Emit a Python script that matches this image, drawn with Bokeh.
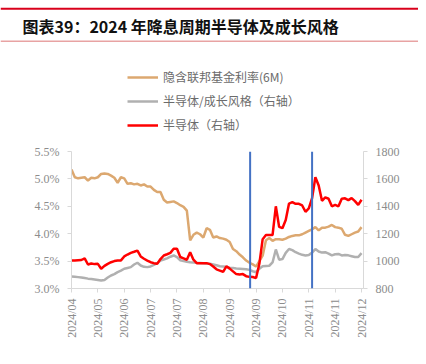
import math
from bokeh.plotting import figure
from bokeh.layouts import column
from bokeh.models import (Range1d, LinearAxis, Legend, LegendItem, Span, Label,
                          FixedTicker, PrintfTickFormatter, ColumnDataSource)
from bokeh.embed import file_html
from bokeh.resources import INLINE

title_text = "图表39：2024 年降息周期半导体及成长风格"
series_names = ["隐含联邦基金利率(6M)", "半导体/成长风格（右轴）", "半导体（右轴）"]

tick_idx = [0, 8, 16, 24, 32, 40, 48, 56, 64, 72, 80, 88]
tick_labels = ["2024/04", "2024/05", "2024/06", "2024/07", "2024/07", "2024/08",
               "2024/09", "2024/09", "2024/10", "2024/11", "2024/11", "2024/12"]

fed_rate_6m = [5.17, 5.03, 5.01, 5.02, 5.03, 4.97, 5.02, 5.01, 5.03, 5.09,
               5.10, 5.09, 5.06, 5.02, 4.93, 5.03, 5.01, 4.91, 4.92, 4.90,
               4.91, 4.88, 4.90, 4.86, 4.86, 4.80, 4.76, 4.76, 4.62, 4.57,
               4.58, 4.59, 4.56, 4.52, 4.49, 4.42, 3.88, 3.98, 4.02, 3.99,
               3.93, 4.10, 4.07, 3.93, 3.95, 3.92, 3.91, 3.89, 3.85, 3.72,
               3.68, 3.62, 3.57, 3.51, 3.47, 3.44, 3.40, 3.50, 3.60, 3.88,
               3.92, 3.87, 3.90, 3.90, 3.89, 3.91, 3.94, 3.96, 3.97, 3.97,
               3.99, 4.02, 4.05, 4.08, 4.12, 4.06, 4.11, 4.11, 4.13, 4.16,
               4.12, 4.11, 4.09, 3.98, 3.96, 3.99, 4.02, 4.04, 4.12]

semi_growth = [888, 886, 883, 880, 876, 872, 870, 866, 862, 858,
               862, 880, 895, 905, 919, 930, 944, 950, 956, 975,
               988, 968, 958, 956, 961, 972, 985, 1004, 1012, 1020,
               1032, 1041, 1029, 1006, 1000, 996, 992, 990, 988, 987,
               985, 982, 980, 975, 970, 962, 960, 958, 952, 950,
               946, 944, 942, 940, 936, 926, 919, 945, 962, 965,
               966, 990, 1085, 1010, 1015, 1060, 1088, 1080, 1065, 1055,
               1046, 1041, 1045, 1062, 1088, 1070, 1062, 1065, 1055, 1042,
               1050, 1052, 1041, 1045, 1042, 1036, 1030, 1030, 1058]

semi = [1004, 1004, 1006, 1008, 1020, 975, 982, 978, 980, 944,
        965, 980, 992, 1000, 1004, 1005, 1034, 1048, 1060, 1068,
        1077, 1034, 1017, 1004, 992, 985, 980, 1015, 1041, 1050,
        1060, 1090, 1090, 1030, 1020, 1010, 1065, 1010, 985, 985,
        985, 985, 978, 960, 940, 931, 922, 962, 945, 925,
        905, 902, 905, 890, 885, 884, 876, 980, 1160, 1190,
        1190, 1190, 1400, 1250, 1240, 1300, 1420, 1430, 1418, 1418,
        1406, 1360, 1385, 1460, 1612, 1552, 1440, 1465, 1455, 1400,
        1410, 1400, 1455, 1458, 1445, 1460, 1438, 1410, 1448]

rate_cut_idx = [54.2, 73.0]

COL_FED, COL_SG, COL_SEMI = "#DCA870", "#B0B0B0", "#FF0000"

x = list(range(len(fed_rate_6m)))
src = ColumnDataSource(dict(x=x, fed=fed_rate_6m, sg=semi_growth, semi=semi))


def bare(fig):
    fig.outline_line_color = None
    fig.xgrid.visible = False
    fig.ygrid.visible = False
    fig.frame_align = False
    return fig


# ---------------- header: rules, title, legend ----------------
HEAD_H = 143
head = bare(figure(width=418, height=HEAD_H, output_backend="svg", toolbar_location=None,
                   x_range=Range1d(0, 418), y_range=Range1d(HEAD_H, 0),
                   x_axis_location=None, y_axis_location=None,
                   min_border_left=0, min_border_right=0, min_border_top=0,
                   min_border_bottom=0))
head.add_layout(Span(location=8.3, dimension="width", line_color="#D9001B", line_width=2))
head.add_layout(Span(location=40.8, dimension="width", line_color="#E8A3A3", line_width=1.5))
head.add_layout(Label(x=22, y=25, text=title_text, text_font="Noto Sans CJK SC",
                      text_font_style="bold", text_font_size="16px",
                      text_color="#111111", text_baseline="middle"))
# legend swatches: the same series, in a range that keeps them out of this strip
head.extra_y_ranges = {"hide": Range1d(10000, 20000)}
h_fed = head.line("x", "fed", source=src, y_range_name="hide", line_color=COL_FED, line_width=2.5)
h_sg = head.line("x", "sg", source=src, y_range_name="hide", line_color=COL_SG, line_width=2.5)
h_semi = head.line("x", "semi", source=src, y_range_name="hide", line_color=COL_SEMI, line_width=2.5)
legend = Legend(items=[LegendItem(label=series_names[0], renderers=[h_fed]),
                       LegendItem(label=series_names[1], renderers=[h_sg]),
                       LegendItem(label=series_names[2], renderers=[h_semi])],
                location=(127, 10), orientation="vertical",
                glyph_width=31, glyph_height=16, label_height=16, spacing=7,
                label_standoff=5, padding=0, margin=0,
                border_line_color=None, background_fill_alpha=0,
                label_text_font="Noto Sans CJK SC", label_text_font_size="12px",
                label_text_color="#6B6B6B")
head.add_layout(legend, "center")

# ---------------- main chart ----------------
MAIN_H = 358 - HEAD_H
p = bare(figure(width=426, height=MAIN_H, output_backend="svg", toolbar_location=None,
                x_range=Range1d(0, 88.6), y_range=Range1d(3.0, 5.5),
                min_border_left=71, min_border_right=63, min_border_top=151 - HEAD_H,
                min_border_bottom=358 - 288))
p.extra_y_ranges = {"r": Range1d(800, 1800)}

axis_col = "#D9D9D9"
lab_col = "#8C8C8C"
tick_font = "Liberation Serif"

xa = p.xaxis[0]
xa.ticker = FixedTicker(ticks=tick_idx)
xa.major_label_overrides = {i: l for i, l in zip(tick_idx, tick_labels)}
xa.major_label_orientation = math.pi / 2
xa.minor_tick_line_color = None

ya = p.yaxis[0]
ya.ticker = FixedTicker(ticks=[3.0, 3.5, 4.0, 4.5, 5.0, 5.5])
ya.formatter = PrintfTickFormatter(format="%.1f%%")
ya.minor_tick_line_color = None

ra = LinearAxis(y_range_name="r", ticker=FixedTicker(ticks=[800, 1000, 1200, 1400, 1600, 1800]))
ra.minor_tick_line_color = None
p.add_layout(ra, "right")

for ax in (xa, ya, ra):
    ax.axis_line_color = axis_col
    ax.major_tick_line_color = axis_col
    ax.major_tick_in = 0
    ax.major_tick_out = 4
    ax.major_label_text_font = tick_font
    ax.major_label_text_font_size = "12px"
    ax.major_label_text_color = lab_col
    ax.major_label_standoff = 8
xa.major_label_standoff = 6

p.line("x", "fed", source=src, line_color=COL_FED, line_width=2.5)
p.line("x", "sg", source=src, y_range_name="r", line_color=COL_SG, line_width=2.5)
p.line("x", "semi", source=src, y_range_name="r", line_color=COL_SEMI, line_width=2.5)

for ci in rate_cut_idx:
    p.add_layout(Span(location=ci, dimension="height", line_color="#4472C4", line_width=2))

# ---------------- footer rule ----------------
FOOT_H = 6
foot = bare(figure(width=418, height=FOOT_H, output_backend="svg", toolbar_location=None,
                   x_range=Range1d(0, 418), y_range=Range1d(FOOT_H, 0),
                   x_axis_location=None, y_axis_location=None,
                   min_border_left=0, min_border_right=0, min_border_top=0,
                   min_border_bottom=0))
foot.add_layout(Span(location=3.5, dimension="width", line_color="#A5001E", line_width=2))

layout = column(head, p, foot, spacing=0)
open("out.html", "w").write(file_html(layout, INLINE))
